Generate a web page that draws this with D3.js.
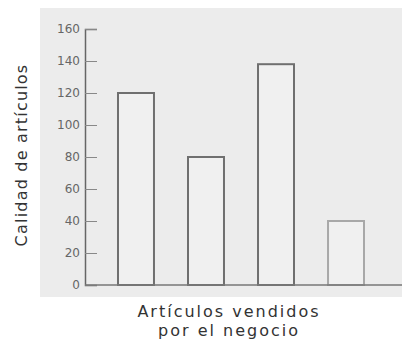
<!DOCTYPE html>
<html>
<head>
<meta charset="utf-8">
<script src="https://cdn.jsdelivr.net/npm/d3@7"></script>
<style>
  body { margin: 0; background: #fff; }
  text { font-family: "DejaVu Sans", sans-serif; }
</style>
</head>
<body>
<div class="home"></div>
<script>
// values
const categories = ["A", "B", "C", "D"];
const values = [120, 80, 138, 40];
const yTicks = [0, 20, 40, 60, 80, 100, 120, 140, 160];
const barStroke = ["#6f6f6f", "#6f6f6f", "#6f6f6f", "#a8a8a8"];

const width = 403;
const height = 343;

const svg = d3.select(".home").append("svg")
  .attr("width", width)
  .attr("height", height);

// grey panel behind the plot
svg.append("rect")
  .attr("x", 40).attr("y", 8)
  .attr("width", 362).attr("height", 289)
  .attr("fill", "#ececec");

const y = d3.scaleLinear().domain([0, 160]).range([285, 29]);
const x = d3.scaleBand().domain(categories).range([100, 382])
  .paddingInner(0.486).paddingOuter(0.257);

// bars
svg.selectAll(".bar")
  .data(values)
  .enter().append("rect")
  .attr("class", "bar")
  .attr("x", (d, i) => x(categories[i]))
  .attr("y", d => y(d))
  .attr("width", x.bandwidth())
  .attr("height", d => y(0) - y(d))
  .attr("fill", "#f0f0f0")
  .attr("stroke", (d, i) => barStroke[i])
  .attr("stroke-width", 2);

// y axis, ticks pointing inward
const yAxis = svg.append("g")
  .attr("transform", "translate(85,0)")
  .call(d3.axisRight(y).tickValues(yTicks).tickSize(12).tickFormat(d3.format("d")));
yAxis.select(".domain").attr("stroke", "#666").attr("stroke-width", 1.5);
yAxis.selectAll(".tick line").attr("stroke", "#888");
yAxis.selectAll(".tick text")
  .attr("x", -5)
  .attr("text-anchor", "end")
  .attr("fill", "#666")
  .style("font-size", "12px");

// x axis line
svg.append("line")
  .attr("x1", 85).attr("x2", 402)
  .attr("y1", y(0)).attr("y2", y(0))
  .attr("stroke", "#777").attr("stroke-width", 1.5);

// axis titles
svg.append("text")
  .attr("transform", "translate(27,155) rotate(-90)")
  .attr("text-anchor", "middle")
  .attr("fill", "#333")
  .style("font-size", "16px")
  .style("letter-spacing", "1.2px")
  .text("Calidad de artículos");

svg.append("text")
  .attr("x", 229).attr("y", 317)
  .attr("text-anchor", "middle")
  .attr("fill", "#333")
  .style("font-size", "16px")
  .style("letter-spacing", "2px")
  .text("Artículos vendidos");

svg.append("text")
  .attr("x", 229).attr("y", 336)
  .attr("text-anchor", "middle")
  .attr("fill", "#333")
  .style("font-size", "16px")
  .style("letter-spacing", "2px")
  .text("por el negocio");
</script>
</body>
</html>
